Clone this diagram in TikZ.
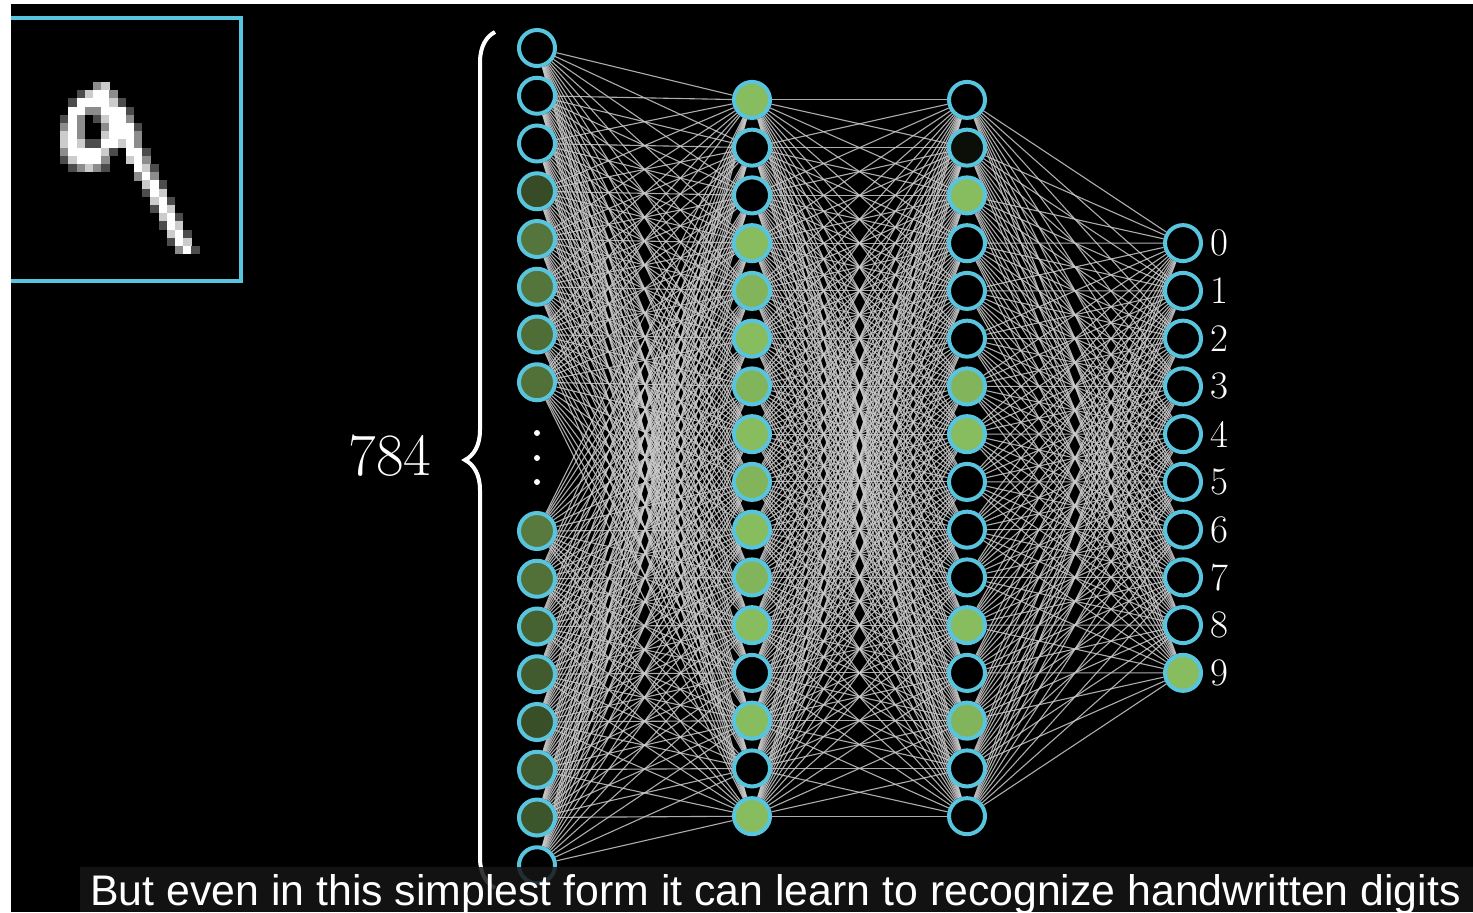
\documentclass[tikz,border=0pt]{standalone}
\usepackage{fontspec}
\newfontfamily\capfont{Liberation Sans}
\usetikzlibrary{positioning,decorations.pathreplacing}
\definecolor{nblue}{RGB}{88,196,221}
\definecolor{litgreen}{RGB}{135,188,95}
\definecolor{captionbg}{RGB}{22,22,22}
\pgfdeclarelayer{bg}
\pgfdeclarelayer{links}
\pgfsetlayers{bg,links,main}

\begin{document}
\begin{tikzpicture}[x=0.5pt,y=-0.5pt,
  neuron/.style={circle,draw=nblue,line width=2pt,minimum size=18pt,inner sep=0pt},
  link/.style={draw=white!80!black,line width=0.55pt,opacity=0.85},
  dotnode/.style={circle,fill=white,minimum size=3pt,inner sep=0pt},
  digitlab/.style={text=white,inner sep=0pt,font=\fontsize{19.5}{21}\selectfont}]
\useasboundingbox (0,0) rectangle (1473,912);
\begin{pgfonlayer}{bg}
  \fill[white] (0,0) rectangle (1473,912);
  \fill[black] (11,4) rectangle (1473,912);
\end{pgfonlayer}
% input image
\draw[nblue,line width=2pt] (11,18) -- (241,18) -- (241,281) -- (11,281);
\foreach \r/\cells in {0/{5/55,6/80},
    1/{3/30,4/80,5/100,6/100,7/55},
    2/{2/30,3/100,4/100,5/100,6/100,7/80,8/30},
    3/{2/100,3/100,4/55,5/55,6/100,7/100,8/100,9/30},
    4/{1/30,2/100,3/55,5/30,6/80,7/100,8/100,9/55},
    5/{1/55,2/100,3/55,6/55,7/100,8/100,9/100,10/30},
    6/{1/80,2/100,3/55,6/80,7/100,8/100,9/100,10/55},
    7/{1/80,2/100,3/80,4/30,5/30,6/100,7/100,8/80,9/100,10/55},
    8/{1/55,2/100,3/100,4/100,5/100,6/80,7/30,9/100,10/100,11/30},
    9/{1/30,2/80,3/100,4/100,5/100,6/55,9/80,10/100,11/55},
    10/{2/30,3/55,4/80,5/55,6/30,10/100,11/80,12/30},
    11/{10/55,11/100,12/55},
    12/{11/80,12/100,13/30},
    13/{11/30,12/100,13/80},
    14/{12/80,13/100,14/30},
    15/{12/30,13/100,14/80},
    16/{13/80,14/100,15/30},
    17/{13/30,14/100,15/80},
    18/{14/80,15/100,16/30},
    19/{14/30,15/100,16/80},
    20/{15/55,16/100,17/30}}
  \foreach \c/\v in \cells
    \fill[white!\v!black] ({52+\c*8.2},{82+\r*8.2}) rectangle +(8.4,8.4);
% layers
\foreach \a [count=\k] in {0,0,0,40,62,62,58,60,65,60,52,48,42,48,45,0}{
  \pgfmathsetmacro{\y}{\k<9 ? 48+(\k-1)*47.75 : 531+(\k-9)*47.75}
  \node[neuron,fill=litgreen!\a!black] (in\k) at (537,\y) {};
}
\foreach \a [count=\k] in {100,0,0,100,96,100,96,100,96,100,96,100,0,100,0,100}
  \node[neuron,fill=litgreen!\a!black] (ha\k) at (752,{99.9+(\k-1)*47.75}) {};
\foreach \a [count=\k] in {0,8,100,0,0,0,96,100,0,0,0,100,0,96,0,0}
  \node[neuron,fill=litgreen!\a!black] (hb\k) at (967,{99.9+(\k-1)*47.75}) {};
\foreach \a [count=\k from 0] in {0,0,0,0,0,0,0,0,0,100}{
  \node[neuron,fill=litgreen!\a!black] (out\k) at (1183,{243.1+\k*47.75}) {};
  \node[digitlab,right=3.5pt of out\k] (lab\k) {\k};
}
\foreach \y [count=\k] in {433,458,482}
  \node[dotnode] (dot\k) at (537,\y) {};
\begin{pgfonlayer}{links}
\foreach \i in {1,...,16}{
  \foreach \j in {1,...,16}{
    \draw[link] (in\i) -- (ha\j);
    \draw[link] (ha\i) -- (hb\j);
  }
  \foreach \j in {0,...,9}
    \draw[link] (hb\i) -- (out\j);
}
\end{pgfonlayer}
% brace and count
\draw[white,line width=2pt,decorate,decoration={brace,amplitude=15pt}] (495,888) -- (495,32);
\node[text=white,font=\fontsize{30}{35}\selectfont] (count) at (390,456) {784};
% caption
\fill[captionbg,fill opacity=0.85] (80,867) rectangle (1473,912);
\node[anchor=base west,inner sep=0pt,text=white,font=\capfont\fontsize{21.4}{25}\selectfont] (caption) at (90,905) {But even in this simplest form it can learn to recognize handwritten digits};
\end{tikzpicture}
\end{document}
